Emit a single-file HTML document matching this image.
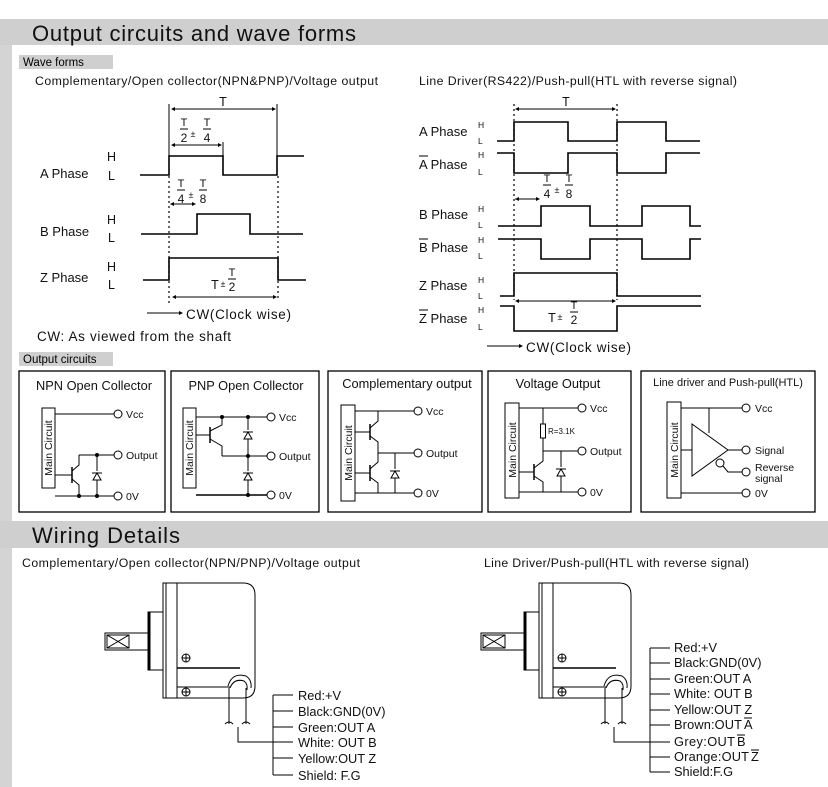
<!DOCTYPE html>
<html><head><meta charset="utf-8"><style>
html,body{margin:0;padding:0;background:#fff;}
svg{display:block;font-family:"Liberation Sans",Arial,sans-serif;}
</style></head><body>
<svg width="828" height="787" viewBox="0 0 828 787" xmlns="http://www.w3.org/2000/svg">
<defs>
<g id="diode"><polygon points="-4,4 4,4 0,-3" fill="none" stroke="#000" stroke-width="1"/><line x1="-5" y1="-3" x2="5" y2="-3" stroke="#000"/></g>
<g id="fracT"><text x="0" y="-3" font-size="11" text-anchor="middle">T</text><line x1="-4" y1="0" x2="4" y2="0" stroke="#000"/></g>
</defs>
<!-- bands -->
<rect x="0" y="19" width="828" height="26" fill="#cfcfcf"/>
<rect x="0" y="45" width="12" height="742" fill="#d4d4d4"/>
<rect x="0" y="521" width="828" height="27" fill="#cfcfcf"/>
<text x="32" y="41" font-size="22" fill="#111" textLength="324" lengthAdjust="spacing">Output circuits and wave forms</text>
<text x="32" y="543" font-size="22" fill="#111" textLength="148" lengthAdjust="spacing">Wiring Details</text>
<rect x="19" y="55" width="94" height="14" fill="#cfcfcf"/>
<text x="23" y="66" font-size="11.5">Wave forms</text>
<rect x="19" y="352" width="94" height="14" fill="#cfcfcf"/>
<text x="23" y="363" font-size="11.5">Output circuits</text>

<g font-size="12.3" fill="#111">
<text x="35" y="85" textLength="343" lengthAdjust="spacing">Complementary/Open collector(NPN&amp;PNP)/Voltage output</text>
<text x="419" y="85" textLength="318" lengthAdjust="spacing">Line Driver(RS422)/Push-pull(HTL with reverse signal)</text>
</g>

<!-- LEFT WAVES -->
<g fill="none" stroke="#000" stroke-width="1.6">
<polyline points="140,175 169,175 169,156 223,156 223,175 277,175 277,156 304,156"/>
<polyline points="141,234 197,234 197,214 250,214 250,234 303,234"/>
<polyline points="143,280 169,280 169,258 278,258 278,280 306,280"/>
</g>
<g stroke="#000" stroke-width="1">
<line x1="169" y1="104" x2="169" y2="156"/><line x1="277" y1="104" x2="277" y2="156"/>
<line x1="223" y1="142" x2="223" y2="156"/>
<line x1="169" y1="176" x2="169" y2="305" stroke-dasharray="2,3" stroke-width="1.2"/>
<line x1="278" y1="176" x2="278" y2="300" stroke-dasharray="2,3" stroke-width="1.2"/>
<line x1="172" y1="109" x2="275" y2="109"/>
<line x1="172" y1="145" x2="221" y2="145"/>
<line x1="171" y1="204" x2="195" y2="204"/>
<line x1="173" y1="297" x2="276" y2="297"/>
<line x1="147" y1="313" x2="181" y2="313"/>
</g>
<g fill="#000">
<polygon points="171,109 175,107 175,111"/><polygon points="276,109 272,107 272,111"/>
<polygon points="171,145 175,143 175,147"/><polygon points="222,145 218,143 218,147"/>
<polygon points="170,204 174,202 174,206"/><polygon points="196,204 192,202 192,206"/>
<polygon points="172,297 176,295 176,299"/><polygon points="277,297 273,295 273,299"/>
<polygon points="183,313 179,311 179,315"/>
</g>
<g font-size="12.5" fill="#111">
<text x="223" y="106" text-anchor="middle">T</text>
<use href="#fracT" x="184" y="129"/><text x="184" y="142" font-size="12" text-anchor="middle">2</text>
<text x="193" y="137" font-size="9" text-anchor="middle">±</text>
<use href="#fracT" x="207" y="129"/><text x="207" y="142" font-size="12" text-anchor="middle">4</text>
<use href="#fracT" x="181" y="190"/><text x="181" y="203" font-size="12" text-anchor="middle">4</text>
<text x="191" y="198" font-size="9" text-anchor="middle">±</text>
<use href="#fracT" x="203" y="190"/><text x="203" y="203" font-size="12" text-anchor="middle">8</text>
<text x="215" y="289" text-anchor="middle">T</text>
<text x="223" y="287" font-size="9" text-anchor="middle">±</text>
<use href="#fracT" x="232" y="279"/><text x="232" y="291" font-size="12" text-anchor="middle">2</text>
<text x="40" y="178" font-size="13">A Phase</text><text x="107" y="161">H</text><text x="108" y="180">L</text>
<text x="40" y="236" font-size="13">B Phase</text><text x="107" y="224">H</text><text x="108" y="242">L</text>
<text x="40" y="282" font-size="13">Z Phase</text><text x="107" y="271">H</text><text x="108" y="289">L</text>
<text x="186" y="319" font-size="13.5" textLength="105" lengthAdjust="spacing">CW(Clock wise)</text>
<text x="37" y="341" font-size="13.5" textLength="194" lengthAdjust="spacing">CW: As viewed from the shaft</text>
</g>

<!-- RIGHT WAVES -->
<g fill="none" stroke="#000" stroke-width="1.6">
<polyline points="497,141 514,141 514,122 568,122 568,141 617,141 617,122 666,122 666,141 700,141"/>
<polyline points="497,153 514,153 514,173 568,173 568,153 617,153 617,173 666,173 666,153 700,153"/>
<polyline points="498,226 541,226 541,206 590,206 590,226 642,226 642,206 690,206 690,226 701,226"/>
<polyline points="498,239 541,239 541,259 590,259 590,239 642,239 642,259 690,259 690,239 701,239"/>
<polyline points="500,296 514,296 514,273 617,273 617,296 701,296"/>
<polyline points="500,306 514,306 514,331 617,331 617,306 701,306"/>
</g>
<g stroke="#000" stroke-width="1">
<line x1="514" y1="104" x2="514" y2="300" stroke-dasharray="2,3" stroke-width="1.2"/>
<line x1="617" y1="104" x2="617" y2="300" stroke-dasharray="2,3" stroke-width="1.2"/>
<line x1="516" y1="109" x2="615" y2="109"/>
<line x1="515" y1="199" x2="539" y2="199"/>
<line x1="516" y1="301" x2="615" y2="301"/>
<line x1="487" y1="346" x2="521" y2="346"/>
</g>
<g fill="#000">
<polygon points="515,109 519,107 519,111"/><polygon points="616,109 612,107 612,111"/>
<polygon points="515,199 519,197 519,201"/><polygon points="540,199 536,197 536,201"/>
<polygon points="515,301 519,299 519,303"/><polygon points="616,301 612,299 612,303"/>
<polygon points="523,346 519,344 519,348"/>
</g>
<g font-size="12.5" fill="#111">
<text x="566" y="106" text-anchor="middle">T</text>
<use href="#fracT" x="547" y="185"/><text x="547" y="198" font-size="12" text-anchor="middle">4</text>
<text x="557" y="193" font-size="9" text-anchor="middle">±</text>
<use href="#fracT" x="569" y="185"/><text x="569" y="198" font-size="12" text-anchor="middle">8</text>
<text x="552" y="322" text-anchor="middle">T</text>
<text x="560" y="320" font-size="9" text-anchor="middle">±</text>
<use href="#fracT" x="574" y="312"/><text x="574" y="324" font-size="12" text-anchor="middle">2</text>
<text x="419" y="136" font-size="13">A Phase</text>
<text x="419" y="169" font-size="13">A Phase</text><line x1="419" y1="156" x2="428" y2="156" stroke="#000"/>
<text x="419" y="219" font-size="13">B Phase</text>
<text x="419" y="252" font-size="13">B Phase</text><line x1="419" y1="239" x2="428" y2="239" stroke="#000"/>
<text x="419" y="290" font-size="13">Z Phase</text>
<text x="419" y="323" font-size="13">Z Phase</text><line x1="419" y1="310" x2="428" y2="310" stroke="#000"/>
<g font-size="8.5"><text x="478" y="128">H</text><text x="478" y="144">L</text>
<text x="478" y="158">H</text><text x="478" y="175">L</text>
<text x="478" y="212">H</text><text x="478" y="228">L</text>
<text x="478" y="243">H</text><text x="478" y="259">L</text>
<text x="478" y="283">H</text><text x="478" y="299">L</text>
<text x="478" y="313">H</text><text x="478" y="330">L</text></g>
<text x="526" y="352" font-size="13.5" textLength="105" lengthAdjust="spacing">CW(Clock wise)</text>
</g>

<!-- OUTPUT CIRCUIT BOXES -->
<g fill="none" stroke="#000" stroke-width="1.3">
<rect x="19" y="371" width="146" height="141"/>
<rect x="171" y="371" width="148" height="141"/>
<rect x="328" y="371" width="154" height="141"/>
<rect x="488" y="371" width="143" height="141"/>
<rect x="641" y="371" width="174" height="141"/>
</g>
<g font-size="12.8" fill="#111" text-anchor="middle">
<text x="94" y="390">NPN Open Collector</text>
<text x="246" y="390">PNP Open Collector</text>
<text x="407" y="388">Complementary output</text>
<text x="558" y="388">Voltage Output</text>
<text x="728" y="386" font-size="11">Line driver and Push-pull(HTL)</text>
</g>
<g fill="none" stroke="#000" stroke-width="1">
<!-- box1 -->
<rect x="42" y="408" width="13" height="80"/>
<line x1="55" y1="414" x2="114" y2="414"/><circle cx="118" cy="414" r="4"/>
<line x1="79" y1="455" x2="114" y2="455"/><circle cx="118" cy="455" r="4"/>
<line x1="55" y1="496" x2="114" y2="496"/><circle cx="118" cy="496" r="4"/>
<line x1="55" y1="475" x2="72" y2="475"/><line x1="72" y1="467" x2="72" y2="483" stroke-width="1.5"/>
<polyline points="72,471 79,465 79,455"/><polyline points="72,479 79,485 79,496"/>
<line x1="97" y1="455" x2="97" y2="496"/>
<!-- box2 -->
<rect x="183" y="408" width="13" height="80"/>
<line x1="196" y1="417" x2="267" y2="417"/><circle cx="271" cy="417" r="4"/>
<line x1="222" y1="456" x2="267" y2="456"/><circle cx="271" cy="456" r="4"/>
<line x1="196" y1="495" x2="267" y2="495" stroke-width="1.6"/><circle cx="271" cy="495" r="4"/>
<line x1="196" y1="435" x2="210" y2="435"/><line x1="210" y1="427" x2="210" y2="443" stroke-width="1.5"/>
<polyline points="210,431 222,425 222,417"/><polyline points="210,439 222,446 222,456"/>
<line x1="248" y1="417" x2="248" y2="495"/>
<!-- box3 -->
<rect x="341" y="405" width="14" height="96"/>
<line x1="355" y1="411" x2="414" y2="411"/><circle cx="418" cy="411" r="4"/>
<line x1="378" y1="453" x2="414" y2="453"/><circle cx="418" cy="453" r="4"/>
<line x1="355" y1="493" x2="414" y2="493"/><circle cx="418" cy="493" r="4"/>
<line x1="355" y1="432" x2="370" y2="432"/><line x1="370" y1="424" x2="370" y2="440" stroke-width="1.5"/>
<polyline points="378,411 378,421 370,428"/><polyline points="370,436 378,442 378,453"/>
<line x1="355" y1="473" x2="370" y2="473"/><line x1="370" y1="465" x2="370" y2="481" stroke-width="1.5"/>
<polyline points="378,453 378,462 370,469"/><polyline points="370,477 378,483 378,493"/>
<line x1="395" y1="453" x2="395" y2="493"/>
<!-- box4 -->
<rect x="505" y="403" width="14" height="95"/>
<line x1="519" y1="408" x2="578" y2="408"/><circle cx="582" cy="408" r="4"/>
<line x1="543" y1="408" x2="543" y2="451"/>
<line x1="543" y1="451" x2="578" y2="451"/><circle cx="582" cy="451" r="4"/>
<line x1="519" y1="492" x2="578" y2="492"/><circle cx="582" cy="492" r="4"/>
<line x1="519" y1="472" x2="534" y2="472"/><line x1="534" y1="464" x2="534" y2="480" stroke-width="1.5"/>
<polyline points="543,451 543,461 534,468"/><polyline points="534,476 543,482 543,492"/>
<line x1="561" y1="451" x2="561" y2="492"/>
<!-- box5 -->
<rect x="667" y="402" width="14" height="96"/>
<line x1="681" y1="408" x2="742" y2="408"/><circle cx="746" cy="408" r="4"/>
<line x1="709" y1="408" x2="709" y2="433"/>
<polygon points="692,424 728,450 692,476"/>
<line x1="681" y1="450" x2="692" y2="450"/>
<line x1="728" y1="450" x2="742" y2="450"/><circle cx="746" cy="450" r="4"/>
<circle cx="720" cy="463" r="4"/>
<polyline points="723,466 728,472 742,472"/><circle cx="746" cy="472" r="4"/>
<line x1="681" y1="493" x2="742" y2="493"/><circle cx="746" cy="493" r="4"/>
</g>
<rect x="540.5" y="424" width="5" height="14" fill="#fff" stroke="#000" stroke-width="1"/>
<g fill="#fff"><rect x="93" y="471" width="8" height="9"/><rect x="244" y="430" width="8" height="9"/><rect x="244" y="471" width="8" height="9"/><rect x="391" y="469" width="8" height="9"/><rect x="557" y="467" width="8" height="9"/></g>
<use href="#diode" x="97" y="476"/><use href="#diode" x="248" y="435"/><use href="#diode" x="248" y="476"/>
<use href="#diode" x="395" y="474"/><use href="#diode" x="561" y="472"/>
<g fill="#000">
<circle cx="97" cy="455" r="2"/><circle cx="79" cy="496" r="2"/><circle cx="97" cy="496" r="2"/>
<circle cx="222" cy="417" r="2"/><circle cx="248" cy="417" r="2"/><circle cx="248" cy="456" r="2"/><circle cx="248" cy="495" r="2"/>
</g>
<g font-size="10.5" fill="#111">
<text x="126" y="418">Vcc</text><text x="126" y="459">Output</text><text x="126" y="500">0V</text>
<text x="279" y="421">Vcc</text><text x="279" y="460">Output</text><text x="279" y="499">0V</text>
<text x="426" y="415">Vcc</text><text x="426" y="457">Output</text><text x="426" y="497">0V</text>
<text x="590" y="412">Vcc</text><text x="590" y="455">Output</text><text x="590" y="496">0V</text>
<text x="755" y="412">Vcc</text><text x="755" y="454">Signal</text><text x="755" y="471">Reverse</text><text x="755" y="482">signal</text><text x="755" y="497">0V</text>
<text x="548" y="434" font-size="8">R=3.1K</text>
<text transform="translate(52,448) rotate(-90)" text-anchor="middle">Main Circuit</text>
<text transform="translate(193,448) rotate(-90)" text-anchor="middle">Main Circuit</text>
<text transform="translate(352,453) rotate(-90)" text-anchor="middle">Main Circuit</text>
<text transform="translate(516,450) rotate(-90)" text-anchor="middle">Main Circuit</text>
<text transform="translate(678,450) rotate(-90)" text-anchor="middle">Main Circuit</text>
</g>

<!-- WIRING -->
<g font-size="12.3" fill="#111">
<text x="22" y="567" textLength="338" lengthAdjust="spacing">Complementary/Open collector(NPN/PNP)/Voltage output</text>
<text x="484" y="567" textLength="265" lengthAdjust="spacing">Line Driver/Push-pull(HTL with reverse signal)</text>
</g>
<g id="enc" fill="none" stroke="#000" stroke-width="1">
<rect x="105" y="633" width="43" height="17"/>
<rect x="107" y="635" width="22" height="13"/><line x1="107" y1="635" x2="129" y2="648"/><line x1="107" y1="648" x2="129" y2="635"/>
<rect x="148" y="612" width="15" height="58"/><line x1="149.5" y1="612" x2="149.5" y2="670" stroke-width="2"/>
<path d="M163,583 H243 Q255,583 255,595 V686 Q255,698 243,698 H163 Z"/>
<line x1="166" y1="583" x2="166" y2="698"/>
<line x1="177" y1="583" x2="177" y2="698"/>
<line x1="177" y1="668" x2="240" y2="668" stroke-width="1.5"/>
<line x1="177" y1="687" x2="228" y2="687"/>
<circle cx="186" cy="658" r="4"/><line x1="182" y1="658" x2="190" y2="658"/><line x1="186" y1="654" x2="186" y2="662"/>
<circle cx="186" cy="692" r="4"/><line x1="182" y1="692" x2="190" y2="692"/><line x1="186" y1="688" x2="186" y2="696"/>
<path d="M228,686 Q232,672 246,676 Q252,680 251,688"/>
<path d="M230,688 Q234,678 244,681 Q248,684 247,690"/>
<line x1="229" y1="686" x2="229" y2="724"/><line x1="246" y1="688" x2="246" y2="724"/>
<path d="M225,724 Q229,720 233,724 M242,724 Q246,720 250,724"/>
<polyline points="238,727 238,742 273,742"/>
</g>
<use href="#enc" x="376" y="0"/>
<g stroke="#000" stroke-width="1" fill="none">
<line x1="273" y1="695" x2="273" y2="775"/>
<line x1="273" y1="695" x2="293" y2="695"/><line x1="273" y1="711" x2="293" y2="711"/><line x1="273" y1="727" x2="293" y2="727"/>
<line x1="273" y1="742" x2="293" y2="742"/><line x1="273" y1="758" x2="293" y2="758"/><line x1="273" y1="775" x2="293" y2="775"/>
<line x1="650" y1="648" x2="650" y2="772"/>
<line x1="650" y1="648" x2="670" y2="648"/><line x1="650" y1="663" x2="670" y2="663"/><line x1="650" y1="679" x2="670" y2="679"/>
<line x1="650" y1="694" x2="670" y2="694"/><line x1="650" y1="710" x2="670" y2="710"/><line x1="650" y1="725" x2="670" y2="725"/>
<line x1="649" y1="742" x2="670" y2="742"/><line x1="650" y1="757" x2="670" y2="757"/><line x1="650" y1="772" x2="670" y2="772"/>
</g>
<g font-size="12.8" fill="#111">
<text x="298" y="700">Red:+V</text><text x="298" y="716">Black:GND(0V)</text><text x="298" y="732">Green:OUT A</text>
<text x="298" y="747">White: OUT B</text><text x="298" y="763">Yellow:OUT Z</text><text x="298" y="780">Shield: F.G</text>
<text x="674" y="652">Red:+V</text><text x="674" y="667">Black:GND(0V)</text><text x="674" y="683">Green:OUT A</text>
<text x="674" y="698">White: OUT B</text><text x="674" y="714">Yellow:OUT Z</text>
<text x="674" y="729" textLength="68" lengthAdjust="spacing">Brown:OUT</text><text x="744" y="729">A</text>
<text x="674" y="746" textLength="61" lengthAdjust="spacing">Grey:OUT</text><text x="737" y="746">B</text>
<text x="674" y="761" textLength="75" lengthAdjust="spacing">Orange:OUT</text><text x="751" y="761">Z</text>
<text x="674" y="776">Shield:F.G</text>
</g>
<g stroke="#000" stroke-width="1">
<line x1="744" y1="718" x2="752" y2="718"/><line x1="737" y1="735" x2="745" y2="735"/><line x1="751" y1="750" x2="759" y2="750"/>
</g>
</svg>
</body></html>
